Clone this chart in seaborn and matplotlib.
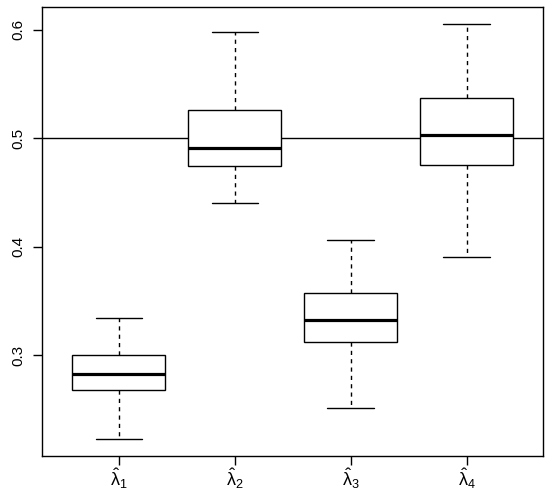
import matplotlib
matplotlib.use("Agg")
import matplotlib.pyplot as plt
import seaborn as sns
import pandas as pd

sns.set_style("ticks")
plt.rcParams['font.family'] = ['Liberation Sans', 'DejaVu Sans']
plt.rcParams['mathtext.fontset'] = 'custom'
plt.rcParams['mathtext.rm'] = 'Liberation Sans'
plt.rcParams['mathtext.it'] = 'Liberation Sans:italic'
plt.rcParams['xtick.color'] = 'black'
plt.rcParams['ytick.color'] = 'black'
plt.rcParams['text.color'] = 'black'

# five-number summaries: min, Q1, median, Q3, max
estimators = ['lam1', 'lam2', 'lam3', 'lam4']
lam1 = [0.2226, 0.2677, 0.2828, 0.3003, 0.3347]
lam2 = [0.4401, 0.4745, 0.4913, 0.5261, 0.5983]
lam3 = [0.2517, 0.3125, 0.3329, 0.3577, 0.4065]
lam4 = [0.3906, 0.4754, 0.5030, 0.5374, 0.6053]
tick_labels = [r'$\hat{\mathrm{\lambda}}_1$', r'$\hat{\mathrm{\lambda}}_2$',
               r'$\hat{\mathrm{\lambda}}_3$', r'$\hat{\mathrm{\lambda}}_4$']
true_value = 0.5

rows = []
for name, vals in zip(estimators, [lam1, lam2, lam3, lam4]):
    for v in vals:
        rows.append({'est': name, 'value': v})
df = pd.DataFrame(rows)

fig = plt.figure(figsize=(5.5, 4.95), dpi=100)
ax = fig.add_axes([0.0769, 0.0788, 0.9104, 0.9065])

sns.boxplot(x='est', y='value', data=df, ax=ax, order=estimators,
            whis=(0, 100), width=0.8, color='white', linecolor='black',
            linewidth=1.0, showfliers=False,
            whiskerprops=dict(linestyle=(0, (3, 3))),
            medianprops=dict(linewidth=2.3))

ax.axhline(true_value, color='black', linewidth=1.0, zorder=0.5)

ax.set_xlim(-0.66, 3.66)
ax.set_ylim(0.2072, 0.6207)
ax.set_yticks([0.3, 0.4, 0.5, 0.6])
ax.set_yticklabels(['0.3', '0.4', '0.5', '0.6'], rotation=90, va='center')
ax.set_xticks(range(4))
ax.set_xticklabels(tick_labels)
ax.set_xlabel('')
ax.set_ylabel('')
ax.tick_params(axis='y', length=6.5, width=1.0, pad=6, labelsize=11)
ax.tick_params(axis='x', length=6.5, width=1.0, pad=1, labelsize=13)
for s in ax.spines.values():
    s.set_visible(True)
    s.set_linewidth(1.0)
    s.set_color('black')

fig.savefig('out.png', dpi=100)
